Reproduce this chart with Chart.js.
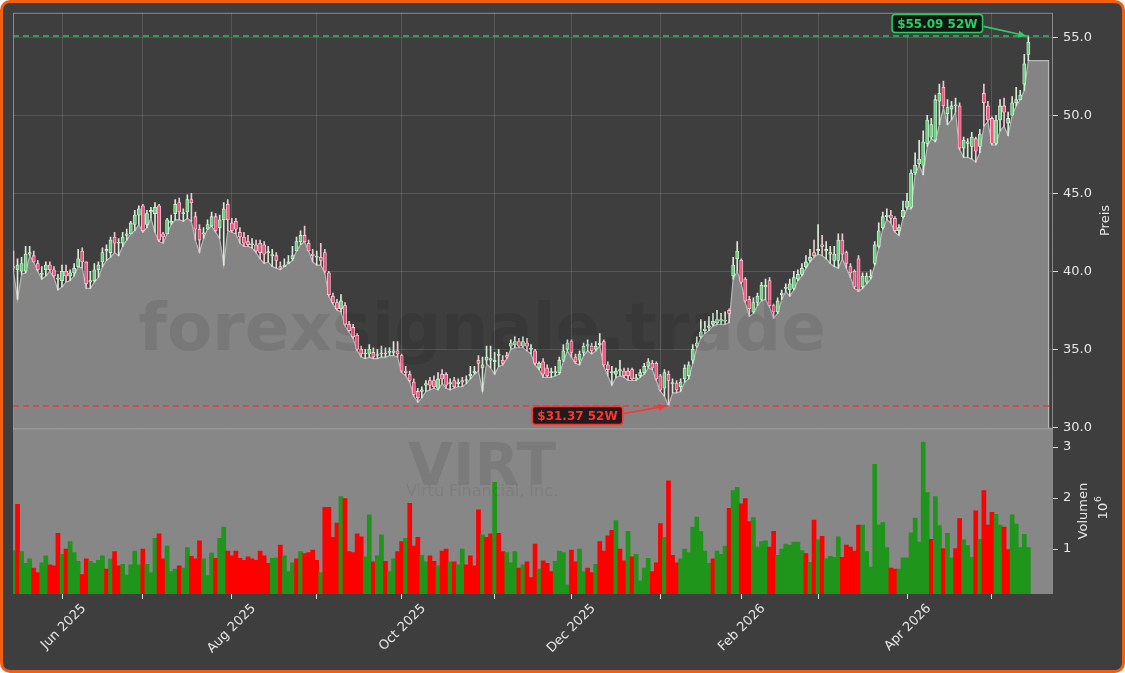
<!DOCTYPE html>
<html>
<head>
<meta charset="utf-8">
<script src="https://cdn.jsdelivr.net/npm/chart.js@4.4.0/dist/chart.umd.min.js"></script>
<style>
  html, body { margin: 0; padding: 0; background: #ffffff; }
  #frame {
    position: relative; width: 1125px; height: 673px; box-sizing: border-box;
    border: 3px solid #f35f10; border-radius: 10px; background: #3e3e3e; overflow: hidden;
  }
  #chart { position: absolute; left: -3px; top: -3px; }
</style>
</head>
<body>
<div id="frame"><canvas id="chart" width="1125" height="673"></canvas></div>
<script>
// VIRT daily candles, 14 May 2025 .. 14 May 2026 (trading-day index)
let opens = [
  40.3,40.1,40.0,40.0,41.1,41.0,40.5,39.8,40.1,40.4, 40.1,39.5,39.4,40.0,39.7,39.9,40.3,41.3,40.6,39.3,
  39.4,40.1,40.6,41.3,41.2,42.2,41.8,41.8,42.3,42.4, 43.0,43.6,44.2,43.0,43.8,43.7,44.2,42.4,42.4,43.1,
  43.7,44.4,43.7,43.8,44.6,43.5,42.7,42.4,42.7,42.9, 43.5,42.8,43.3,44.3,43.1,43.2,42.5,42.2,41.9,41.7,
  41.7,41.8,41.7,41.2,41.0,41.0,40.3,40.3,40.5,40.8, 41.3,41.9,42.3,41.8,41.1,40.9,40.9,41.2,39.9,38.4,
  38.0,37.6,37.8,36.6,36.4,35.9,35.0,34.7,34.7,34.8, 34.6,34.7,34.7,34.8,34.8,34.9,34.6,33.6,33.4,32.9,
  32.3,32.3,32.7,33.0,33.0,32.5,33.4,33.4,32.8,33.0, 32.8,33.0,33.0,33.3,33.5,34.3,33.8,34.3,34.3,34.2,
  34.6,34.3,34.6,35.2,35.3,35.5,35.2,35.4,35.0,34.9, 33.8,34.2,33.8,33.5,33.5,33.5,34.3,35.0,35.5,34.5,
  34.3,34.8,35.2,35.2,35.0,35.3,35.5,34.0,33.5,33.4, 33.6,33.6,33.6,33.7,33.1,33.3,33.5,33.9,34.1,34.1,
  33.3,32.5,33.4,32.8,32.8,32.6,33.1,33.3,34.3,35.2, 35.8,36.2,36.4,36.6,36.7,36.8,36.8,37.5,39.7,40.8,
  40.7,39.5,38.2,37.4,38.0,38.2,39.0,39.4,37.8,37.4, 38.5,38.9,38.8,38.9,39.5,39.8,40.3,40.7,41.2,41.3,
  41.7,41.3,41.1,40.7,40.7,42.0,41.2,40.3,40.0,40.8, 39.0,39.3,39.6,40.5,41.6,42.8,43.5,43.6,43.4,42.6,
  43.5,44.1,44.1,46.3,46.9,46.8,48.2,48.6,48.4,50.9, 51.8,50.1,50.4,50.6,50.6,47.9,48.2,48.0,48.5,48.0,
  51.4,50.6,49.8,48.2,49.7,50.6,49.5,50.0,50.8,51.0, 52.0,53.9
];
let highs = [
  41.3,40.8,40.9,41.6,41.6,41.3,40.7,40.3,40.6,40.6, 40.3,39.8,40.4,40.4,40.1,40.5,41.4,41.5,40.6,40.0,
  40.5,40.6,41.5,41.7,42.2,42.5,42.1,42.5,42.7,43.2, 43.9,44.2,44.3,43.9,44.1,44.4,44.3,42.5,43.4,43.6,
  44.6,44.7,44.0,44.9,45.0,43.8,43.0,42.8,43.3,43.8, 43.7,43.6,44.4,44.6,43.4,43.4,42.8,42.5,42.3,42.1,
  42.0,42.0,41.9,41.6,41.4,41.2,40.6,40.8,41.0,41.6, 42.2,42.6,42.9,42.0,41.4,41.3,41.8,41.4,40.0,38.6,
  38.2,38.5,38.0,36.8,36.6,36.0,35.2,35.0,35.3,35.1, 35.0,35.2,35.1,35.1,35.5,35.5,34.7,33.9,33.6,33.1,
  32.5,32.6,33.0,33.2,33.3,33.5,33.7,33.5,33.1,33.2, 33.1,33.2,33.3,33.9,33.9,34.6,34.5,35.2,35.2,34.8,
  35.0,34.6,34.8,35.6,35.8,35.7,35.8,35.7,35.3,35.0, 34.2,34.4,34.0,33.8,33.9,34.5,35.3,35.6,35.6,34.7,
  34.9,35.4,35.6,35.4,35.5,36.0,35.6,34.2,33.9,33.8, 34.3,33.8,33.8,33.8,33.4,33.7,34.1,34.4,34.3,34.2,
  33.4,33.7,33.6,33.1,33.0,33.1,34.0,34.2,35.3,35.8, 36.9,36.8,37.1,37.3,37.5,37.3,37.4,37.6,40.9,41.9,
  40.8,39.6,38.4,38.3,38.6,39.3,39.5,39.6,37.9,38.3, 38.8,39.2,39.5,40.0,40.1,40.5,41.0,41.4,42.0,43.0,
  42.3,41.9,41.6,41.6,42.4,42.4,41.3,40.5,40.1,41.0, 39.9,39.9,40.1,41.9,43.1,43.8,44.0,43.9,43.5,43.0,
  44.5,45.0,46.5,47.6,48.4,49.0,50.0,49.8,51.3,52.0, 52.2,51.0,50.9,51.1,50.8,48.6,48.5,48.9,48.6,49.1,
  52.0,50.9,49.9,50.0,51.0,51.1,50.2,51.2,51.8,51.6, 53.9,55.09
];
let lows = [
  40.0,38.2,39.8,39.9,41.0,40.6,40.0,39.5,39.7,40.0, 39.6,38.8,39.0,39.3,39.4,39.7,40.3,40.2,38.9,38.9,
  39.3,39.6,40.3,40.7,40.9,41.2,41.0,41.6,42.0,42.4, 42.6,43.0,42.5,42.8,43.4,42.5,41.9,41.8,42.4,43.0,
  43.3,43.3,43.2,43.4,43.2,42.0,41.2,42.1,42.7,42.9, 42.5,42.1,40.4,42.6,42.5,42.4,41.8,41.6,41.6,41.5,
  41.2,40.8,40.5,40.6,40.3,40.2,40.1,40.3,40.5,40.7, 41.3,41.7,41.9,41.3,40.6,40.4,40.4,39.9,38.4,37.9,
  37.5,37.4,36.5,36.1,35.7,34.9,34.5,34.4,34.5,34.4, 34.4,34.5,34.5,34.6,34.6,34.5,33.5,33.3,32.9,32.0,
  31.6,31.9,32.3,32.4,32.5,32.4,32.8,32.5,32.4,32.5, 32.6,32.6,32.8,33.1,33.4,33.6,32.3,34.1,33.8,33.4,
  33.9,34.0,34.4,35.0,35.1,35.1,35.1,34.9,34.7,34.0, 33.7,33.2,33.2,33.2,33.3,33.4,34.2,34.9,34.5,34.1,
  34.0,34.6,34.9,34.7,34.9,35.2,33.9,33.3,32.7,33.2, 33.3,33.2,33.0,33.0,33.0,33.2,33.4,33.8,33.7,33.0,
  32.3,32.0,31.37,32.2,32.2,32.3,32.9,33.1,34.1,35.1, 35.7,36.0,36.2,36.5,36.6,36.6,36.6,36.7,39.5,40.0,
  39.2,38.0,37.1,37.3,37.8,38.1,38.2,37.7,37.0,37.3, 38.2,38.7,38.4,38.8,39.4,39.7,40.2,40.6,40.9,41.1,
  41.0,40.8,40.5,40.3,40.2,40.8,40.2,39.6,38.9,38.7, 38.9,39.2,39.5,40.4,41.5,42.7,43.3,43.1,42.5,42.3,
  43.4,44.0,44.0,46.2,46.8,46.2,48.0,48.5,48.3,49.4, 50.5,49.4,49.7,50.2,47.8,47.3,47.3,47.2,47.0,47.6,
  49.3,49.6,48.1,48.1,49.0,49.3,48.7,50.0,50.6,51.0, 51.6,53.5
];
let closes = [
  40.2,40.4,40.5,41.1,41.2,40.6,40.1,39.8,40.4,40.1, 39.7,39.5,40.0,39.7,39.9,40.2,40.8,40.6,39.2,39.4,
  40.1,40.4,41.2,41.4,42.0,41.8,41.8,42.2,42.4,43.1, 43.6,44.0,42.6,43.7,43.9,44.1,42.0,42.2,43.3,43.2,
  44.3,43.8,43.7,44.6,44.4,42.7,42.0,42.4,43.0,43.5, 42.6,43.3,44.0,43.3,42.6,42.7,42.2,41.8,41.7,41.7,
  41.3,41.2,41.1,41.2,41.0,40.7,40.2,40.4,40.6,41.0, 41.9,42.3,41.9,41.3,41.0,40.9,40.7,40.0,38.5,38.0,
  37.6,38.1,36.6,36.2,35.8,35.0,34.7,34.7,35.0,34.5, 34.6,34.7,34.7,34.8,34.9,34.7,33.6,33.5,33.0,32.1,
  31.9,32.4,32.8,32.7,32.6,33.1,33.1,32.7,32.8,32.6, 32.9,32.9,33.0,33.4,33.6,34.1,34.0,34.5,34.4,34.3,
  34.7,34.1,34.5,35.4,35.5,35.2,35.5,35.2,35.0,34.1, 34.1,33.4,33.3,33.5,33.5,34.3,34.9,35.4,34.8,34.2,
  34.7,35.2,35.3,34.9,35.2,35.4,34.0,33.7,33.5,33.6, 33.7,33.3,33.3,33.1,33.1,33.5,33.9,34.2,33.8,33.1,
  32.4,33.5,33.0,32.8,32.4,32.9,33.8,34.0,35.0,35.4, 36.1,36.3,36.5,36.8,36.9,36.9,36.8,37.3,40.4,41.3,
  39.3,38.1,37.6,38.0,38.4,39.1,39.1,37.8,37.4,38.1, 38.6,38.9,39.2,39.6,39.8,40.2,40.6,40.9,41.0,41.4,
  41.6,41.4,41.2,41.1,42.0,41.1,40.5,39.9,39.0,38.8, 39.7,39.7,39.7,41.7,42.6,43.5,43.6,43.4,42.6,42.8,
  43.9,44.5,46.3,46.8,47.2,48.3,49.7,49.4,51.0,51.4, 50.6,50.5,50.6,50.6,47.9,48.4,48.3,48.6,47.7,48.8,
  50.8,49.7,48.2,49.7,50.6,50.2,49.8,50.8,51.0,51.3, 53.3,54.7
];
// volume in millions of shares, and whether the day counted as an up day
let volumes = [
  0.97,1.88,0.95,0.72,0.81,0.63,0.54,0.73,0.87,0.69, 0.67,1.31,0.90,1.00,1.15,0.93,0.76,0.50,0.81,0.76,
  0.72,0.78,0.87,0.61,0.81,0.95,0.67,0.70,0.49,0.69, 0.96,0.69,1.00,0.70,0.54,1.21,1.30,0.81,1.06,0.56,
  0.61,0.67,0.63,1.03,0.86,0.81,1.16,0.81,0.48,0.92, 0.82,1.21,1.43,0.96,0.87,0.96,0.82,0.78,0.85,0.81,
  0.78,0.96,0.87,0.72,0.82,0.83,1.08,0.87,0.56,0.73, 0.81,0.95,0.91,0.93,0.98,0.78,0.54,1.82,1.82,1.23,
  1.51,2.03,1.99,0.95,0.93,1.30,1.24,0.85,1.67,0.75, 0.87,1.28,0.76,0.56,0.81,0.95,1.15,1.21,1.90,1.06,
  1.23,0.88,0.75,0.87,0.76,0.67,0.96,1.00,0.75,0.75, 0.69,1.00,0.69,0.87,0.67,1.77,1.28,1.23,1.30,2.31,
  1.31,0.95,0.93,0.73,0.95,0.63,0.69,0.75,0.44,1.10, 0.61,0.77,0.72,0.56,0.76,0.96,0.93,0.30,0.98,0.75,
  1.00,0.56,0.63,0.54,0.70,1.15,0.96,1.26,1.37,1.56, 1.00,0.77,1.35,0.85,0.90,0.38,0.63,0.82,0.56,0.73,
  1.50,1.23,2.34,0.88,0.73,0.81,1.00,0.93,1.43,1.63, 1.35,0.96,0.72,0.81,0.96,0.90,1.06,1.80,2.15,2.21,
  1.89,1.99,1.54,1.62,1.04,1.15,1.16,1.04,1.35,0.88, 1.00,1.10,1.08,1.14,1.14,0.97,0.91,0.74,1.57,1.18,
  1.25,0.81,0.86,0.84,1.24,0.84,1.08,1.04,0.96,1.47, 1.47,0.95,0.65,2.66,1.47,1.52,1.03,0.63,0.61,0.61,
  0.83,0.83,1.32,1.61,1.14,3.10,2.11,1.19,2.03,1.46, 1.01,1.31,0.83,1.01,1.60,1.18,1.07,0.84,1.75,1.19,
  2.15,1.47,1.72,1.68,1.47,1.43,0.99,1.67,1.49,1.03, 1.29,1.03
];
let volUp = [
  1,0,1,1,1,0,0,1,1,0, 0,0,1,0,1,1,1,0,0,1, 1,1,1,0,1,0,0,1,1,1, 1,1,0,1,1,1,0,0,1,1,
  1,0,1,1,0,0,0,1,1,1, 0,1,1,0,0,0,0,0,0,0, 0,0,0,0,1,1,0,1,1,1, 0,1,0,0,0,0,1,0,0,0,
  0,1,0,0,0,0,0,1,1,0, 1,1,0,1,1,0,0,1,0,0, 0,1,1,0,0,1,0,0,1,0, 1,1,0,0,0,0,1,0,0,1,
  0,0,1,1,1,0,1,0,0,0, 1,0,0,0,1,1,1,1,0,0, 1,1,0,0,1,0,0,0,0,1, 0,0,1,0,1,1,1,1,0,0,
  0,1,0,0,0,1,1,1,1,1, 1,1,1,0,1,1,1,0,1,1, 0,0,0,1,1,1,1,0,0,1, 1,1,1,1,1,1,0,1,0,1,
  0,1,1,1,1,0,0,0,0,0, 1,1,1,1,1,1,1,0,0,1, 1,1,1,1,1,1,1,0,1,1, 0,1,1,0,0,1,1,1,0,1,
  0,0,0,1,1,0,0,1,1,1, 1,1
];
// first trading day of each month (index) and the labels shown under them
let monthIdx = [12, 32, 54, 75, 96, 119, 138, 160, 180, 199, 221, 242];
let monthLabels = ["Jun 2025", "", "Aug 2025", "", "Oct 2025", "", "Dec 2025", "", "Feb 2026", "", "Apr 2026", ""];
let priceTicks = [30, 35, 40, 45, 50, 55];
let volTicks = [1, 2, 3];
let areaEndIdx = 256;

const PRICE_MIN = 29.94, PRICE_MAX = 56.57;
const VOL_MIN = 0.12, VOL_MAX = 3.37;
const X_MIN = -0.12, X_MAX = 257.1;

const high52 = Math.max(...highs);
const low52 = Math.min(...lows);
const iHigh = highs.indexOf(high52);
const iLow = lows.indexOf(low52);

Chart.defaults.font.family = "'DejaVu Sans', sans-serif";
Chart.defaults.font.size = 13;
Chart.defaults.color = "#e6e6e6";

const idx = opens.map((_, i) => i);
const up = idx.map(i => closes[i] >= opens[i]);
const areaPts = idx.map(i => ({ x: i, y: lows[i] }));
areaPts.push({ x: areaEndIdx, y: lows[lows.length - 1] });
areaPts.push({ x: areaEndIdx, y: PRICE_MIN });

function roundBox(ctx, x, y, w, h, r) {
  ctx.beginPath();
  ctx.moveTo(x + r, y);
  ctx.arcTo(x + w, y, x + w, y + h, r);
  ctx.arcTo(x + w, y + h, x, y + h, r);
  ctx.arcTo(x, y + h, x, y, r);
  ctx.arcTo(x, y, x + w, y, r);
  ctx.closePath();
}

function arrow(ctx, x1, y1, x2, y2, color) {
  const a = Math.atan2(y2 - y1, x2 - x1);
  ctx.strokeStyle = color;
  ctx.fillStyle = color;
  ctx.lineWidth = 1.6;
  ctx.beginPath();
  ctx.moveTo(x1, y1);
  ctx.lineTo(x2 - 6 * Math.cos(a), y2 - 6 * Math.sin(a));
  ctx.stroke();
  ctx.beginPath();
  ctx.moveTo(x2, y2);
  ctx.lineTo(x2 - 8 * Math.cos(a) + 3.5 * Math.sin(a), y2 - 8 * Math.sin(a) - 3.5 * Math.cos(a));
  ctx.lineTo(x2 - 8 * Math.cos(a) - 3.5 * Math.sin(a), y2 - 8 * Math.sin(a) + 3.5 * Math.cos(a));
  ctx.closePath();
  ctx.fill();
}

function label52(ctx, text, tx, ty, dx, dy, color, fill) {
  ctx.font = "bold 12px 'DejaVu Sans'";
  const w = ctx.measureText(text).width + 10;
  const h = 18;
  const cx = tx + dx, cy = ty + dy;
  roundBox(ctx, cx - w / 2, cy - h / 2, w, h, 3);
  ctx.fillStyle = fill;
  ctx.fill();
  ctx.lineWidth = 1.5;
  ctx.strokeStyle = color;
  ctx.stroke();
  ctx.fillStyle = color;
  ctx.textAlign = "center";
  ctx.textBaseline = "middle";
  ctx.fillText(text, cx, cy + 1);
  arrow(ctx, cx + w / 2 + 1, cy + (dy < 0 ? 3 : -2), tx - 2, ty, color);
}

function vtext(ctx, text, x, y, font, color) {
  ctx.save();
  ctx.translate(x, y);
  ctx.rotate(-Math.PI / 2);
  ctx.font = font;
  ctx.fillStyle = color;
  ctx.textAlign = "center";
  ctx.textBaseline = "middle";
  ctx.fillText(text, 0, 0);
  ctx.restore();
}

const panels = {
  id: "panels",
  beforeDatasetsDraw(chart) {
    const { ctx, chartArea: a, scales } = chart;
    ctx.save();
    ctx.fillStyle = "#878787";
    ctx.fillRect(a.left, scales.v.top, a.right - a.left, scales.v.bottom - scales.v.top);
    ctx.restore();
  },
  afterDatasetsDraw(chart) {
    const { ctx, chartArea: a, scales } = chart;
    const y = scales.y, x = scales.x, v = scales.v;
    ctx.save();

    // watermark
    ctx.fillStyle = "rgba(0,0,0,0.085)";
    ctx.textAlign = "center";
    ctx.textBaseline = "alphabetic";
    const wx = a.left + (a.right - a.left) * 0.451;
    ctx.font = "bold 66px 'DejaVu Sans'";
    ctx.fillText("forexsignale.trade", wx, y.top + (y.bottom - y.top) * 0.812);
    ctx.font = "bold 58px 'DejaVu Sans'";
    ctx.fillText("VIRT", wx, v.top + (v.bottom - v.top) * 0.34);
    ctx.fillStyle = "rgba(0,0,0,0.07)";
    ctx.font = "16px 'DejaVu Sans'";
    ctx.fillText("Virtu Financial, Inc.", wx, v.top + (v.bottom - v.top) * 0.41);

    // price panel frame
    ctx.strokeStyle = "rgba(200,200,200,0.55)";
    ctx.lineWidth = 1;
    ctx.strokeRect(a.left + 0.5, y.top + 0.5, a.right - a.left - 1, y.bottom - y.top);

    // 52-week lines
    ctx.setLineDash([6, 4]);
    ctx.lineWidth = 1.5;
    ctx.strokeStyle = "rgba(50,200,105,0.9)";
    let py = y.getPixelForValue(high52);
    ctx.beginPath(); ctx.moveTo(a.left, py); ctx.lineTo(a.right, py); ctx.stroke();
    ctx.strokeStyle = "rgba(240,55,55,0.9)";
    py = y.getPixelForValue(low52);
    ctx.beginPath(); ctx.moveTo(a.left, py); ctx.lineTo(a.right, py); ctx.stroke();
    ctx.setLineDash([]);

    label52(ctx, "$" + high52.toFixed(2) + " 52W", x.getPixelForValue(iHigh), y.getPixelForValue(high52),
      -91, -12.5, "#2fcc66", "rgba(8,22,12,0.92)");
    label52(ctx, "$" + low52.toFixed(2) + " 52W", x.getPixelForValue(iLow), y.getPixelForValue(low52),
      -91, 9.5, "#ff3434", "rgba(26,18,18,0.92)");

    // axis titles
    vtext(ctx, "Preis", a.right + 53, (y.top + y.bottom) / 2, "13px 'DejaVu Sans'", "#e6e6e6");
    vtext(ctx, "Volumen", a.right + 31, (v.top + v.bottom) / 2, "13px 'DejaVu Sans'", "#e6e6e6");
    vtext(ctx, "10", a.right + 51, (v.top + v.bottom) / 2, "13px 'DejaVu Sans'", "#e6e6e6");
    vtext(ctx, "6", a.right + 46, (v.top + v.bottom) / 2 - 12, "9px 'DejaVu Sans'", "#e6e6e6");
    ctx.restore();
  }
};

new Chart(document.getElementById("chart"), {
  type: "bar",
  data: {
    datasets: [
      {
        type: "line",
        label: "Tief",
        data: areaPts,
        yAxisID: "y",
        fill: "start",
        backgroundColor: "#848484",
        borderColor: "#b9b9b9",
        borderWidth: 1.2,
        pointRadius: 0,
        tension: 0,
        order: 5,
      },
      {
        label: "Docht",
        data: idx.map(i => ({ x: i, y: [lows[i], highs[i]] })),
        yAxisID: "y",
        backgroundColor: idx.map(i => (up[i] ? "#d6ecd8" : "#f0c6d2")),
        barThickness: 1,
        grouped: false,
        order: 3,
      },
      {
        label: "Kerze",
        data: idx.map(i => ({ x: i, y: [opens[i], closes[i]] })),
        yAxisID: "y",
        backgroundColor: idx.map(i => (up[i] ? "#6fcf80" : "#f0557f")),
        borderColor: idx.map(i => (up[i] ? "#dcf5df" : "#ffd2de")),
        borderWidth: 0.8,
        borderSkipped: false,
        barThickness: 3.2,
        minBarLength: 1,
        grouped: false,
        order: 2,
      },
      {
        label: "Volumen",
        data: idx.map(i => ({ x: i, y: volumes[i] })),
        yAxisID: "v",
        backgroundColor: idx.map(i => (volUp[i] ? "#1f951c" : "#ff0000")),
        barPercentage: 1,
        categoryPercentage: 1,
        grouped: false,
        order: 4,
      },
    ],
  },
  options: {
    responsive: false,
    animation: false,
    layout: { padding: { left: 13, top: 12, right: 0, bottom: 0 } },
    plugins: { legend: { display: false }, tooltip: { enabled: false } },
    scales: {
      x: {
        type: "linear",
        min: X_MIN,
        max: X_MAX,
        offset: false,
        border: { display: false },
        grid: { offset: false, color: "rgba(255,255,255,0.13)", tickColor: "#dddddd", tickLength: 5 },
        afterBuildTicks: s => { s.ticks = monthIdx.map(v => ({ value: v })); },
        ticks: {
          autoSkip: false,
          minRotation: 45,
          maxRotation: 45,
          labelOffset: 22,
          padding: 2,
          color: "#e6e6e6",
          callback: (val, i) => monthLabels[i],
        },
        afterFit: s => { s.height = 79; },
      },
      y: {
        position: "right",
        stack: "panels",
        stackWeight: 416,
        min: PRICE_MIN,
        max: PRICE_MAX,
        border: { display: false },
        grid: { color: "rgba(255,255,255,0.13)", tickColor: "#dddddd", tickLength: 5 },
        afterBuildTicks: s => { s.ticks = priceTicks.map(v => ({ value: v })); },
        ticks: { padding: 5, color: "#e6e6e6", callback: v => v.toFixed(1) },
        afterFit: s => { s.width = 72; },
      },
      v: {
        position: "right",
        stack: "panels",
        stackWeight: 166,
        min: VOL_MIN,
        max: VOL_MAX,
        border: { display: false },
        grid: { drawOnChartArea: false, tickColor: "#dddddd", tickLength: 5 },
        afterBuildTicks: s => { s.ticks = volTicks.map(v => ({ value: v })); },
        ticks: { padding: 5, color: "#e6e6e6", callback: v => String(v) },
        afterFit: s => { s.width = 72; },
      },
    },
  },
  plugins: [panels],
});
</script>
</body>
</html>
